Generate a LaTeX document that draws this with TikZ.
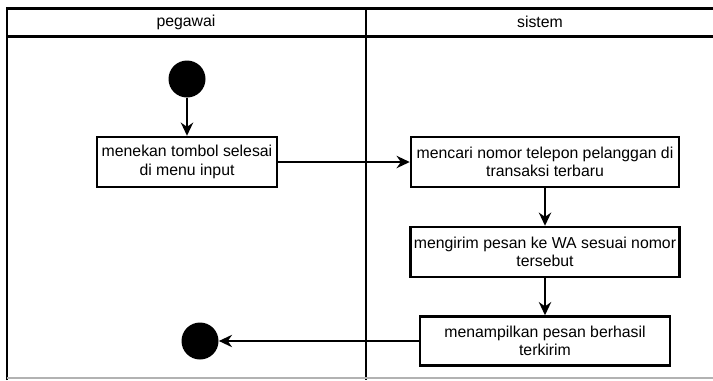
\documentclass[tikz,border=0pt]{standalone}
\usepackage{fontspec}
\setmainfont{Liberation Sans}
\usetikzlibrary{arrows.meta}
\begin{document}
\begin{tikzpicture}[x=0.02cm,y=-0.02cm,>={Stealth[length=7.5pt,width=7pt]},every node/.style={font=\fontsize{9}{10.5}\selectfont},
  act/.style={draw,line width=1.4pt,fill=white,align=center,inner sep=2pt},
  dot/.style={circle,fill=black,inner sep=0pt,minimum size=37*0.02cm},
  flow/.style={->,line width=1.2pt}]
\useasboundingbox (0,0) rectangle (713,380);
% swimlanes
\draw[line width=1.7pt] (7,380) -- (7,8) -- (713,8);
\draw[line width=1.7pt] (7,36) -- (713,36);
\draw[line width=1.7pt] (366,8) -- (366,380);
\draw[gray!60,line width=0.6pt] (7,378) -- (713,378);
\node (pegawai) at (186,22) {pegawai};
\node (sistem) at (540,22) {sistem};
% pegawai
\node[dot] (start) at (187,79) {};
\node[act,minimum width=180*0.02cm,minimum height=50*0.02cm] (tekan) at (187,162) {menekan tombol selesai\\di menu input};
\node[dot] (end) at (200,341) {};
% sistem
\node[act,minimum width=268*0.02cm,minimum height=50*0.02cm] (cari) at (545,162) {mencari nomor telepon pelanggan di\\transaksi terbaru};
\node[act,minimum width=269*0.02cm,minimum height=50*0.02cm] (kirim) at (545,252) {mengirim pesan ke WA sesuai nomor\\tersebut};
\node[act,minimum width=250*0.02cm,minimum height=49*0.02cm] (tampil) at (545,341) {menampilkan pesan berhasil\\terkirim};
% alur
\draw[flow] (start) -- (tekan);
\draw[flow] (tekan) -- (cari);
\draw[flow] (cari) -- (kirim);
\draw[flow] (kirim) -- (tampil);
\draw[flow] (tampil) -- (end);
\end{tikzpicture}
\end{document}
